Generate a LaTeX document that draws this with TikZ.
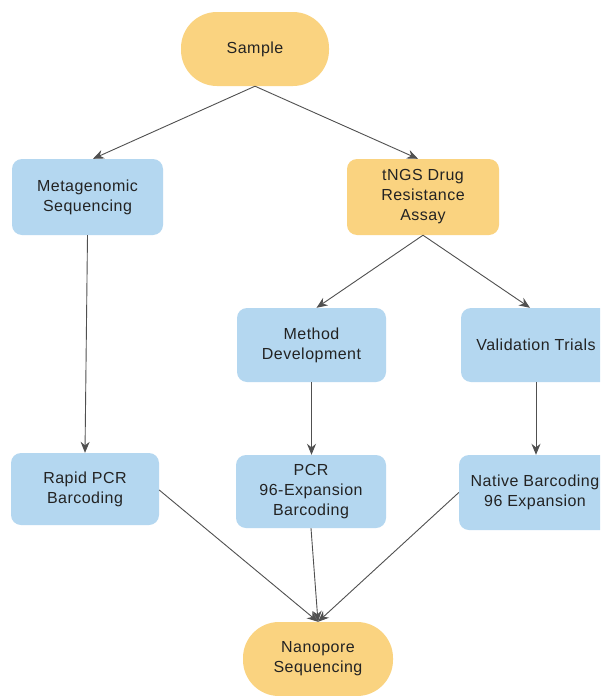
\documentclass[tikz,border=0pt]{standalone}
\usepackage{fontspec}
\setmainfont{Liberation Sans}[LetterSpace=3]
\usetikzlibrary{arrows.meta,calc}
\definecolor{boxblue}{RGB}{180,215,240}
\definecolor{boxorange}{RGB}{250,211,128}
\definecolor{txt}{RGB}{35,35,35}
\definecolor{edge}{RGB}{80,80,80}
\tikzset{
  base/.style={align=center, text=txt, inner sep=0pt, font=\fontsize{16}{20}\selectfont},
  bluebox/.style={base, fill=boxblue, rounded corners=10pt},
  orangebox/.style={base, fill=boxorange, rounded corners=10pt},
  pill/.style={base, fill=boxorange, rounded corners=36pt},
  conn/.style={draw=edge, line width=0.9pt, -{Stealth[length=11pt,width=9pt]}}
}
\begin{document}
\begin{tikzpicture}[x=1pt,y=-1pt]
\clip (0,0) rectangle (600,696);
\fill[white] (0,0) rectangle (600,696);
\node[pill, minimum width=148pt, minimum height=74pt] (sample) at (255,49) {Sample};
\node[bluebox, minimum width=151pt, minimum height=76pt] (meta) at (87.5,197) {Metagenomic\\Sequencing};
\node[orangebox, minimum width=152pt, minimum height=76pt] (tngs) at (423,197) {tNGS Drug\\Resistance\\Assay};
\node[bluebox, minimum width=149pt, minimum height=74pt] (method) at (311.5,345) {Method\\Development};
\node[bluebox, minimum width=150pt, minimum height=74pt] (valid) at (536,345) {Validation Trials};
\node[bluebox, minimum width=148pt, minimum height=72pt] (rapid) at (85,489) {Rapid PCR\\Barcoding};
\node[bluebox, minimum width=150pt, minimum height=73pt] (pcr) at (311,491.5) {PCR\\96-Expansion\\Barcoding};
\node[bluebox, minimum width=152pt, minimum height=75pt] (native) at (535,492.5) {Native Barcoding\\96 Expansion};
\node[pill, minimum width=150pt, minimum height=74pt] (nano) at (318,659) {Nanopore\\Sequencing};

\draw[conn] (sample.south) -- ($(meta.north)+(5.5,0)$);
\draw[conn] (sample.south) -- ($(tngs.north)+(-5,0)$);
\draw[conn] (tngs.south) -- ($(method.north)+(5,0)$);
\draw[conn] (tngs.south) -- ($(valid.north)+(-6,0)$);
\draw[conn] (meta.south) -- (rapid.north);
\draw[conn] (method.south) -- ($(pcr.north)+(0.5,0)$);
\draw[conn] (valid.south) -- ($(native.north)+(1,0)$);
\draw[conn] ($(rapid.east)+(0,1)$) -- (nano.north);
\draw[conn] (pcr.south) -- (nano.north);
\draw[conn] (native.west) -- (nano.north);
\end{tikzpicture}
\end{document}
